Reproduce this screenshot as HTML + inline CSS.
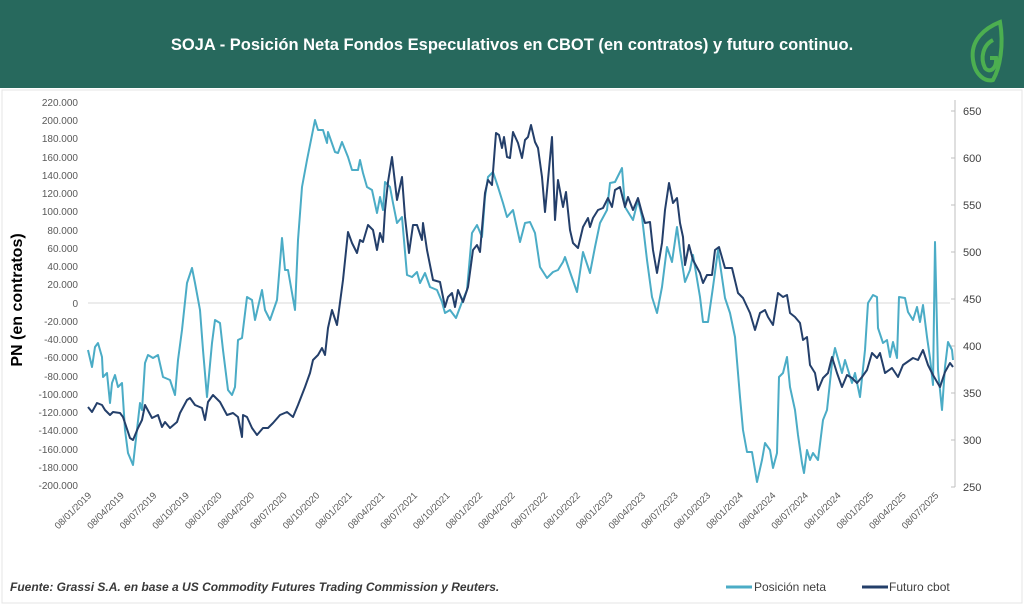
<!DOCTYPE html>
<html><head><meta charset="utf-8"><style>
body{margin:0;width:1024px;height:605px;background:#fff;overflow:hidden;font-family:"Liberation Sans",Arial,sans-serif}
.hdr{position:absolute;left:0;top:0;width:1024px;height:88px;background:#27695d}
.title{position:absolute;left:0;width:1024px;top:36px;text-align:center;color:#fff;font-weight:bold;font-size:16.5px}
</style></head><body>
<div class="hdr"></div>
<div class="title">SOJA - Posición Neta Fondos Especulativos en CBOT (en contratos) y futuro continuo.</div>
<svg width="1024" height="605" style="position:absolute;left:0;top:0">
<path d="M1000,22 C985,28 970,40 973,60 C975,75 985,82 993,80 C1000,68 1004,45 1000,22 Z" fill="none" stroke="#4caf50" stroke-width="4"/>
<path d="M993,40 C983,45 980,58 985,68 C990,74 997,68 996,58 L990,58" fill="none" stroke="#4caf50" stroke-width="4"/>
<rect x="2" y="90" width="1020" height="513" fill="none" stroke="#e4e4e4"/>
<g font-size="10" fill="#595959" text-anchor="end">
<text x="78" y="106">220.000</text><text x="78" y="124">200.000</text><text x="78" y="142">180.000</text><text x="78" y="161">160.000</text><text x="78" y="179">140.000</text><text x="78" y="197">120.000</text><text x="78" y="215">100.000</text><text x="78" y="234">80.000</text><text x="78" y="252">60.000</text><text x="78" y="270">40.000</text><text x="78" y="288">20.000</text><text x="78" y="307">0</text><text x="78" y="325">-20.000</text><text x="78" y="343">-40.000</text><text x="78" y="361">-60.000</text><text x="78" y="380">-80.000</text><text x="78" y="398">-100.000</text><text x="78" y="416">-120.000</text><text x="78" y="434">-140.000</text><text x="78" y="453">-160.000</text><text x="78" y="471">-180.000</text><text x="78" y="489">-200.000</text>
</g>
<text transform="translate(22,300) rotate(-90)" text-anchor="middle" font-size="16" font-weight="bold" fill="#000">PN  (en contratos)</text>
<line x1="955" y1="100" x2="955" y2="487" stroke="#bfbfbf"/>
<g font-size="11" fill="#404040">
<text x="963" y="115">650</text><text x="963" y="162">600</text><text x="963" y="209">550</text><text x="963" y="256">500</text><text x="963" y="303">450</text><text x="963" y="350">400</text><text x="963" y="397">350</text><text x="963" y="444">300</text><text x="963" y="491">250</text>
</g>
<g stroke="#bfbfbf"><line x1="955" y1="111" x2="951" y2="111"/><line x1="955" y1="158" x2="951" y2="158"/><line x1="955" y1="205" x2="951" y2="205"/><line x1="955" y1="252" x2="951" y2="252"/><line x1="955" y1="299" x2="951" y2="299"/><line x1="955" y1="346" x2="951" y2="346"/><line x1="955" y1="393" x2="951" y2="393"/><line x1="955" y1="440" x2="951" y2="440"/><line x1="955" y1="487" x2="951" y2="487"/></g>
<line x1="88" y1="303" x2="950" y2="303" stroke="#d9d9d9"/>
<g font-size="9.5" fill="#595959" text-anchor="end" id="xl"></g>
<polyline fill="none" stroke="#4bacc6" stroke-width="2" stroke-linejoin="round" points="88,350 92,367 95,347 98,343 102,357 103,377 107,373 110,403 112,383 115,375 118,387 122,383 125,430 128,453 133,465 140,403 142,410 145,363 148,355 153,358 158,355 163,377 170,380 175,395 178,360 182,330 187,283 192,268 195,283 200,310 203,350 207,397 212,343 215,320 220,323 223,350 228,390 232,395 235,387 238,340 242,338 247,297 252,300 255,320 262,290 265,310 270,320 277,300 282,238 285,270 288,270 295,310 298,240 302,187 307,160 315,120 318,130 323,130 327,143 328,132 335,152 338,153 342,142 348,157 352,170 358,170 360,160 363,173 367,187 372,190 377,213 380,197 383,210 385,182 390,187 393,203 397,223 402,217 407,275 412,277 417,272 420,283 425,273 430,287 437,290 442,302 445,313 450,310 456,318 462,302 467,290 472,233 477,225 482,237 485,197 488,177 493,172 498,187 503,203 507,217 513,210 520,242 525,223 530,222 535,233 540,267 547,278 553,272 558,270 563,262 565,257 570,272 577,292 583,252 590,273 595,247 600,223 607,210 610,183 615,182 622,168 625,207 633,220 638,200 642,217 647,260 652,297 657,313 662,287 667,247 672,262 677,227 680,250 685,282 690,270 693,255 700,297 703,322 708,322 713,287 718,250 725,298 730,313 735,337 740,397 743,430 747,452 752,452 757,482 762,460 765,443 770,450 773,468 777,453 779,377 783,373 787,357 790,387 795,410 798,435 802,463 804,473 807,450 810,460 813,453 818,460 823,420 827,410 832,363 835,348 842,373 845,360 852,383 855,373 860,397 865,350 868,303 873,295 877,297 878,328 883,343 887,340 890,357 893,342 897,358 899,297 905,298 908,312 913,320 917,307 920,322 923,305 927,337 930,358 933,385 935,242 938,370 942,410 945,367 948,342 952,350 953,360"/>
<polyline fill="none" stroke="#243f6a" stroke-width="2" stroke-linejoin="round" points="88,407 92,412 97,403 102,405 105,410 110,415 113,412 120,413 123,417 130,438 133,440 138,428 142,420 145,405 152,418 158,415 162,427 165,422 170,428 177,422 180,413 187,400 190,398 195,405 202,408 205,420 208,402 213,395 220,402 227,415 233,413 238,417 242,437 243,415 247,417 252,428 257,435 263,428 268,428 273,423 280,415 287,412 293,417 298,405 305,387 310,373 313,360 318,355 322,348 325,355 328,328 332,310 337,325 343,280 348,232 352,243 357,253 360,240 363,242 368,225 373,230 377,250 380,233 383,242 385,210 388,182 392,157 397,200 402,177 405,217 409,253 413,225 417,225 422,240 423,223 427,250 433,280 440,282 445,307 448,297 452,293 455,307 458,290 463,302 468,287 473,250 477,245 480,252 485,193 488,180 492,185 496,133 499,135 502,148 504,137 507,157 510,158 513,132 518,143 522,158 525,140 528,137 531,125 535,142 538,148 542,177 545,212 552,137 555,220 558,180 563,207 566,192 570,230 573,243 578,248 583,227 588,218 590,227 593,218 598,210 603,208 608,198 612,207 615,190 620,187 625,207 628,197 633,210 638,198 642,213 645,223 650,222 653,250 657,273 662,243 665,210 669,183 673,203 677,198 680,223 683,237 685,265 689,245 693,260 700,273 703,283 707,275 712,275 715,250 719,247 725,268 732,268 738,293 743,298 750,313 755,330 760,313 765,310 768,317 773,325 778,293 783,297 787,295 790,313 795,317 800,323 803,340 807,337 810,365 815,373 818,390 823,378 828,373 832,357 837,373 842,387 847,375 852,378 857,383 862,377 867,370 872,353 877,358 880,353 885,373 892,368 898,377 903,365 913,358 918,360 923,350 928,365 933,375 940,387 945,372 950,363 953,367"/>
<text x="10" y="591" font-size="12" font-style="italic" font-weight="bold" fill="#3a3a3a">Fuente: Grassi S.A. en base a US Commodity  Futures Trading Commission y Reuters.</text>
<line x1="726" y1="587" x2="752" y2="587" stroke="#4bacc6" stroke-width="3"/>
<text x="754" y="591" font-size="12" fill="#404040">Posición neta</text>
<line x1="862" y1="587" x2="888" y2="587" stroke="#243f6a" stroke-width="3"/>
<text x="889" y="591" font-size="12" fill="#404040">Futuro cbot</text>
</svg>
<script>
var g=document.getElementById('xl'),ns='http://www.w3.org/2000/svg',m=['01','04','07','10'];
for(var i=0;i<27;i++){var x=88+i*32.58;var t=document.createElementNS(ns,'text');
t.setAttribute('transform','translate('+(x+4)+',496) rotate(-45)');
t.textContent='08/'+m[i%4]+'/'+(2019+Math.floor(i/4));g.appendChild(t);}
</script>
</body></html>
